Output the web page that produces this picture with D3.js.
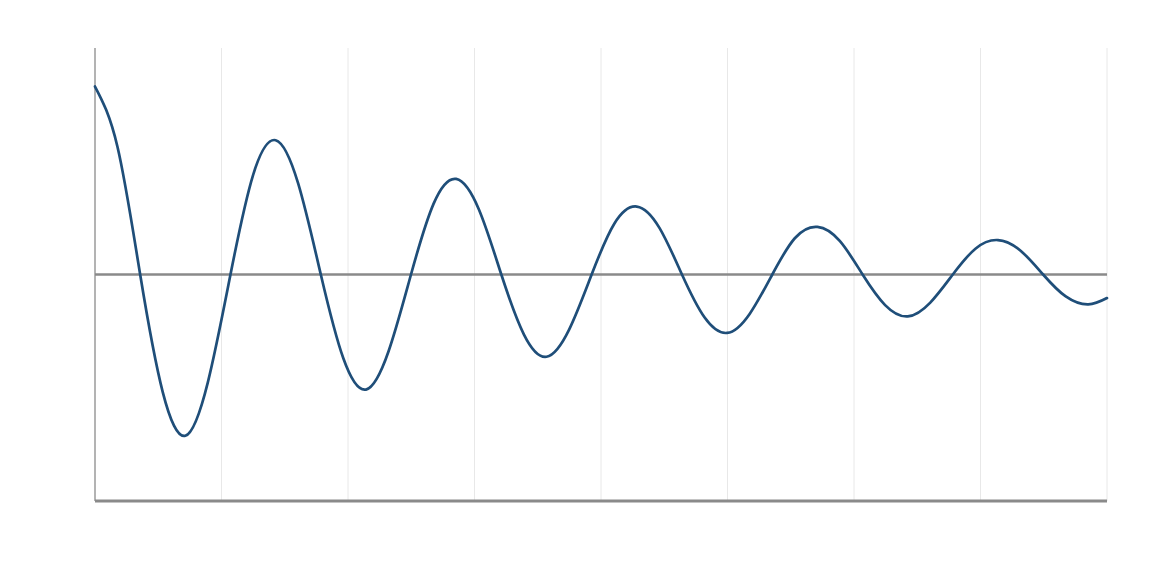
<!DOCTYPE html>
<html>
<head>
<meta charset="utf-8">
<script src="https://cdn.jsdelivr.net/npm/d3@7"></script>
<style>
html,body{margin:0;padding:0;background:#fff;}
svg{display:block;}
</style>
</head>
<body>
<svg id="chart" width="1152" height="576"></svg>
<script>
// Data (time vs. displacement of a damped oscillation)
const xValues = [0,0.178,0.357,0.535,0.714,0.892,1.071,1.249,1.428,1.606,1.785,1.963,2.142,2.320,2.498,2.677,2.855,3.034,3.212,3.391,3.569,3.748,3.926,4.105,4.283,4.462,4.640,4.818,4.997,5.175,5.354,5.532,5.711,5.889,6.068,6.246,6.425,6.603,6.781,6.960,7.138,7.317,7.495,7.674,7.852,8.000];
const yValues = [0.830,0.563,0,-0.518,-0.712,-0.476,0,0.438,0.593,0.402,0,-0.370,-0.508,-0.340,0,0.313,0.422,0.288,0,-0.265,-0.363,-0.243,0,0.224,0.300,0.206,0,-0.189,-0.258,-0.174,0,0.160,0.210,0.147,0,-0.135,-0.185,-0.124,0,0.114,0.152,0.105,0,-0.097,-0.132,-0.104];
const xTicks = [0,1,2,3,4,5,6,7,8];
const xDomain = [0, 8];
const yDomain = [-1, 1];

const svg = d3.select("#chart");
const margin = {left: 95, right: 45, top: 48, bottom: 75};
const W = 1152, H = 576;
const x = d3.scaleLinear().domain(xDomain).range([margin.left, W - margin.right]);
const y = d3.scaleLinear().domain(yDomain).range([H - margin.bottom, margin.top]);

// vertical gridlines
svg.append("g").selectAll("line").data(xTicks).join("line")
  .attr("x1", d => x(d)).attr("x2", d => x(d))
  .attr("y1", y(yDomain[1])).attr("y2", y(yDomain[0]))
  .attr("stroke", "#e8e8e8").attr("stroke-width", 1);

// left axis line
svg.append("line")
  .attr("x1", x(xDomain[0])).attr("x2", x(xDomain[0]))
  .attr("y1", y(yDomain[1])).attr("y2", y(yDomain[0]))
  .attr("stroke", "#888").attr("stroke-width", 1.2);

// zero line
svg.append("line")
  .attr("x1", x(xDomain[0])).attr("x2", x(xDomain[1]))
  .attr("y1", y(0)).attr("y2", y(0))
  .attr("stroke", "#8a8a8a").attr("stroke-width", 2.5);

// bottom axis line
svg.append("line")
  .attr("x1", x(xDomain[0])).attr("x2", x(xDomain[1]))
  .attr("y1", y(yDomain[0])).attr("y2", y(yDomain[0]))
  .attr("stroke", "#8a8a8a").attr("stroke-width", 3);

// data line
const pts = xValues.map((v, i) => [v, yValues[i]]);
const line = d3.line().x(d => x(d[0])).y(d => y(d[1])).curve(d3.curveNatural);
svg.append("path").datum(pts)
  .attr("d", line)
  .attr("fill", "none")
  .attr("stroke", "#1f4e79")
  .attr("stroke-width", 2.7)
  .attr("stroke-linejoin", "round")
  .attr("stroke-linecap", "round");
</script>
</body>
</html>
